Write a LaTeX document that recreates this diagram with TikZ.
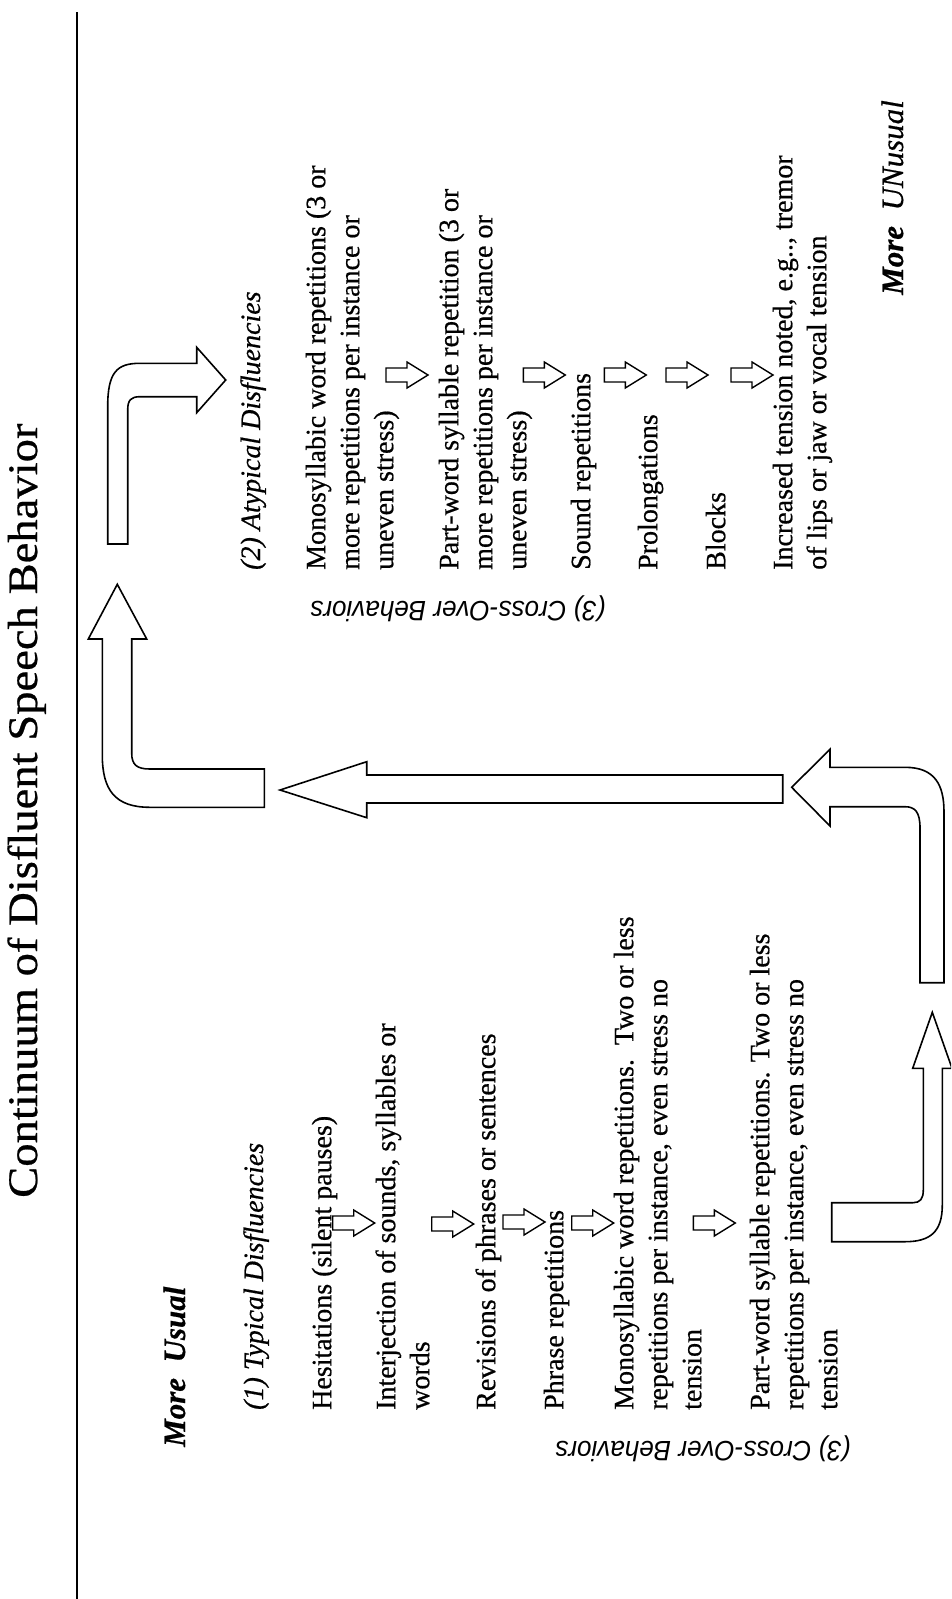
\documentclass[tikz,border=0pt]{standalone}
\usepackage{fontspec}
\setmainfont{Liberation Serif}[FakeBold=0.6]
\newfontfamily\titlefont{Liberation Serif}[FakeStretch=1.11,FakeBold=0.6]
\newfontfamily\crossfont{Liberation Sans}[FakeStretch=0.93]
\begin{document}
\begin{tikzpicture}[x=1pt,y=-1pt,
  blk/.style={draw=black, line width=1.6pt, line join=miter, fill=white},
  txt/.style={rotate=90, inner sep=0pt, align=left, font=\fontsize{28}{34}\selectfont},
  hdr/.style={rotate=90, inner sep=0pt, anchor=base west, font=\fontsize{28}{34}\selectfont\itshape},
  more/.style={rotate=90, inner sep=0pt, anchor=base west, font=\fontsize{31}{36}\selectfont\itshape},
  cross/.style={rotate=180, inner sep=0pt, font=\crossfont\itshape\fontsize{28}{34}\selectfont},
  sarrow/.pic={\draw[blk, line width=1.4pt] (0,-7) -- (21,-7) -- (21,-13) -- (42,0) -- (21,13) -- (21,7) -- (0,7) -- cycle;}
]
\useasboundingbox (0,0) rectangle (951,1599);
\clip (0,0) rectangle (951,1599);

% rule under the title
\coordinate (ruletop) at (77,12);
\coordinate (rulebot) at (77,1599);
\draw[line width=1.6pt] (ruletop) -- (rulebot);

% title
\node[rotate=90, anchor=base west, inner sep=0pt, font=\titlefont\fontsize{42}{50}\selectfont] (title) at (37,1198) {Continuum of Disfluent Speech Behavior};

% end labels
\node[more] (usual) at (185,1447) {\bfseries More\ \ Usual};
\node[more] (unusual) at (903,295) {{\bfseries More}\ \ UNusual};

% left column: typical
\node[hdr] (typ) at (263,1410) {(1) Typical Disfluencies};
\node[txt, anchor=north west] (l1) at (307.2,1410) {\strut Hesitations (silent pauses)};
\node[txt, anchor=north west] (l2) at (371.2,1410) {\strut Interjection of sounds, syllables or\\words};
\node[txt, anchor=north west] (l3) at (471.2,1410) {\strut Revisions of phrases or sentences};
\node[txt, anchor=north west] (l4) at (539.2,1410) {\strut Phrase repetitions};
\node[txt, anchor=north west] (l5) at (609.2,1410) {\strut Monosyllabic word repetitions.\ \ Two or less\\repetitions per instance, even stress no\\tension};
\node[txt, anchor=north west] (l6) at (745.2,1410) {\strut Part-word syllable repetitions. Two or less\\repetitions per instance, even stress no\\tension};

% right column: atypical
\node[hdr] (atyp) at (260,570) {(2) Atypical Disfluencies};
\node[txt, anchor=north west] (r1) at (301.2,570) {\strut Monosyllabic word repetitions (3 or\\more repetitions per instance or\\uneven stress)};
\node[txt, anchor=north west] (r2) at (434.2,570) {\strut Part-word syllable repetition (3 or\\more repetitions per instance or\\uneven stress)};
\node[txt, anchor=north west] (r3) at (566.2,570) {\strut Sound repetitions};
\node[txt, anchor=north west] (r4) at (633.2,570) {\strut Prolongations};
\node[txt, anchor=north west] (r5) at (701.2,570) {\strut Blocks};
\node[txt, anchor=north west] (r6) at (768.2,570) {\strut Increased tension noted, e.g.., tremor\\of lips or jaw or vocal tension};

% cross-over labels
\node[cross] (cx1) at (458,609) {(3) Cross-Over Behaviors};
\node[cross] (cx2) at (703,1449) {(3) Cross-Over Behaviors};

% small arrows, left column
\pic at (332.7,1223) {sarrow};
\pic at (431.7,1224) {sarrow};
\pic at (503,1222) {sarrow};
\pic at (571.7,1223) {sarrow};
\pic at (693.3,1223) {sarrow};

% small arrows, right column
\pic at (386,375) {sarrow};
\pic at (523.3,375) {sarrow};
\pic at (604.3,375) {sarrow};
\pic at (666,375) {sarrow};
\pic at (731,375) {sarrow};

% big block arrows
% bottom bent arrow (up)
\draw[blk] (932.3,1012.3) -- (952,1068.3) -- (942.3,1068.3) -- (942.3,1205)
  .. controls (942.3,1232) and (930,1241.7) .. (905,1241.7) -- (831.7,1241.7)
  -- (831.7,1202.7) -- (913,1202.7) .. controls (920,1202.7) and (923.3,1199) .. (923.3,1190)
  -- (923.3,1068.3) -- (912.7,1068.3) -- cycle;
% right bent arrow (left)
\draw[blk] (791.7,787.3) -- (830,749.3) -- (830,767.3) -- (905,767.3)
  .. controls (935,767.3) and (944,785) .. (944,812) -- (944,982.7) -- (920,982.7)
  -- (920,828) .. controls (920,812) and (915,806.7) .. (905,806.7) -- (830,806.7)
  -- (830,826) -- cycle;
% long arrow (left)
\draw[blk] (280,790) -- (366.7,761.7) -- (366.7,775) -- (782.7,775) -- (782.7,803)
  -- (366.7,803) -- (366.7,817.7) -- cycle;
% left bent arrow (up)
\draw[blk] (117.3,584.3) -- (146.7,639) -- (131.7,639) -- (131.7,753)
  .. controls (131.7,765) and (137,769) .. (150,769) -- (264.3,769) -- (264.3,807.3)
  -- (150,807.3) .. controls (115,807.3) and (102.3,790) .. (102.3,755)
  -- (102.3,639) -- (88.3,639) -- cycle;
% top bent arrow (right)
\draw[blk] (107.7,544) -- (107.7,406.7) .. controls (107.7,372) and (117,363.3) .. (140,363.3)
  -- (196.7,363.3) -- (196.7,347.3) -- (225.7,380) -- (196.7,412.7) -- (196.7,396.7)
  -- (140,396.7) .. controls (131,396.7) and (127.7,400) .. (127.7,410) -- (127.7,544) -- cycle;
\end{tikzpicture}
\end{document}
